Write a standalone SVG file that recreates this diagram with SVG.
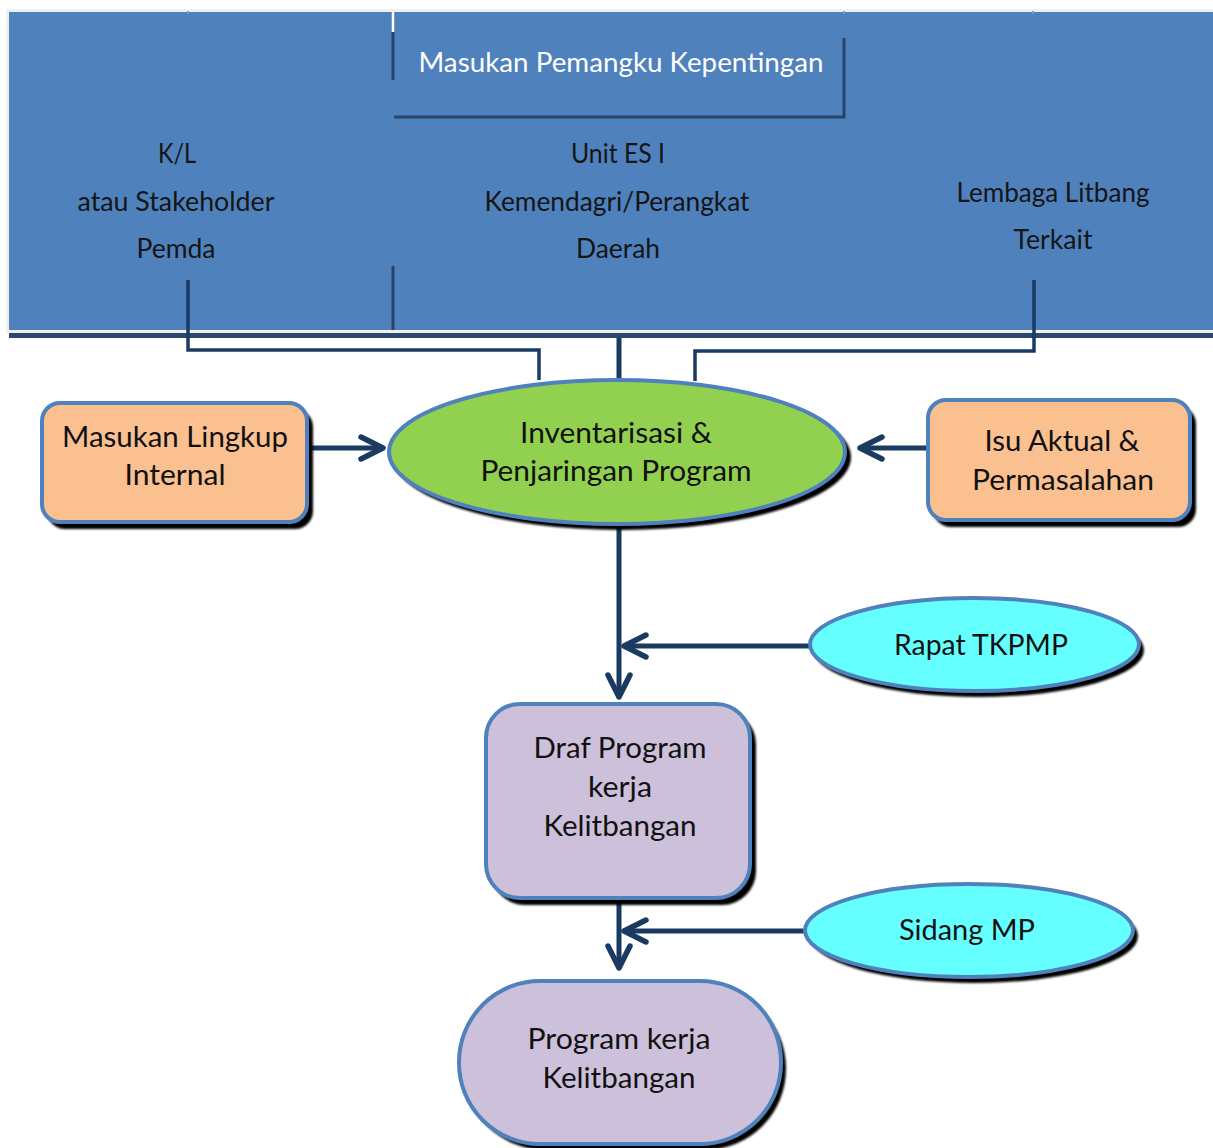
<svg xmlns="http://www.w3.org/2000/svg" width="1213" height="1148" viewBox="0 0 1213 1148">
  <style>
    .lbl { font-family: Lato, "Open Sans", "Liberation Sans", sans-serif; font-size: 28px; fill: #111111; text-anchor: middle; }
    .band { font-family: Lato, "Open Sans", "Liberation Sans", sans-serif; font-size: 27px; fill: #151515; text-anchor: middle; }
    .white { fill: #ffffff; }
    .edge { stroke: #4f81bd; stroke-width: 4; }
    .shadow { fill: #000000; }
    .wire { fill: none; stroke: #1b3a62; stroke-width: 5; }
    .thin { fill: none; stroke: #1b3a62; stroke-width: 3.5; }
    .rule { fill: none; stroke: #2a4468; stroke-width: 3; }
  </style>
  <defs>
    <marker id="chev" markerUnits="userSpaceOnUse" markerWidth="34" markerHeight="34" viewBox="-28 -17 34 34" refX="0" refY="0" orient="auto" overflow="visible">
      <path d="M -22 -11 L 0 0 L -22 11" fill="none" stroke="#1b3a62" stroke-width="5.5" stroke-linecap="round" stroke-linejoin="round"/>
    </marker>
    <filter id="soft" x="-10%" y="-10%" width="120%" height="130%">
      <feGaussianBlur stdDeviation="1"/>
    </filter>
  </defs>

  <rect width="1213" height="1148" fill="#ffffff"/>

  <!-- stakeholder band -->
  <g id="stakeholder-band">
    <rect x="6" y="9" width="1207" height="324" fill="#f0f0f0"/>
    <rect x="9" y="12" width="1204" height="318" fill="#4f81bd"/>
    <rect x="9" y="333" width="1204" height="5" fill="#2c4770"/>
    <!-- column dividers -->
    <line x1="393" y1="12" x2="393" y2="32" stroke="#ffffff" stroke-width="2.5"/>
    <line x1="393" y1="32" x2="393" y2="80" class="rule"/>
    <line x1="393" y1="266" x2="393" y2="330" class="rule"/>
    <line x1="188" y1="11" x2="188" y2="14" stroke="#6f9bd0" stroke-width="2"/>
    <line x1="844" y1="11" x2="844" y2="14" stroke="#6f9bd0" stroke-width="2"/>
    <line x1="1033" y1="11" x2="1033" y2="14" stroke="#6f9bd0" stroke-width="2"/>
    <!-- heading frame -->
    <polyline points="844,38 844,117 394,117" class="rule"/>
    <text x="621" y="72" class="band white" textLength="405" lengthAdjust="spacingAndGlyphs">Masukan Pemangku Kepentingan</text>
    <!-- columns -->
    <text x="177" y="163" class="band" textLength="38" lengthAdjust="spacingAndGlyphs">K/L</text>
    <text x="176" y="211" class="band" textLength="197" lengthAdjust="spacingAndGlyphs">atau Stakeholder</text>
    <text x="176" y="258" class="band" textLength="79" lengthAdjust="spacingAndGlyphs">Pemda</text>
    <text x="618" y="163" class="band" textLength="94" lengthAdjust="spacingAndGlyphs">Unit ES I</text>
    <text x="617" y="211" class="band" textLength="265" lengthAdjust="spacingAndGlyphs">Kemendagri/Perangkat</text>
    <text x="618" y="258" class="band" textLength="84" lengthAdjust="spacingAndGlyphs">Daerah</text>
    <text x="1053" y="202" class="band" textLength="193" lengthAdjust="spacingAndGlyphs">Lembaga Litbang</text>
    <text x="1053" y="249" class="band" textLength="79" lengthAdjust="spacingAndGlyphs">Terkait</text>
  </g>

  <!-- connectors -->
  <g id="connectors">
    <polyline points="188,280 188,350 539,350 539,380" class="thin"/>
    <line x1="619" y1="338" x2="619" y2="378" class="wire"/>
    <polyline points="1034,280 1034,351 695,351 695,381" class="thin"/>
    <line x1="311" y1="448" x2="383" y2="448" class="wire" marker-end="url(#chev)"/>
    <line x1="926" y1="448" x2="860" y2="448" class="wire" marker-end="url(#chev)"/>
    <line x1="619" y1="527" x2="619" y2="697" class="wire" marker-end="url(#chev)"/>
    <line x1="809" y1="646" x2="624" y2="646" class="wire" marker-end="url(#chev)"/>
    <line x1="619" y1="901" x2="619" y2="968" class="wire" marker-end="url(#chev)"/>
    <line x1="804" y1="931" x2="624" y2="931" class="wire" marker-end="url(#chev)"/>
  </g>

  <!-- inventory ellipse -->
  <g id="inventarisasi">
    <ellipse cx="622" cy="457" rx="229" ry="73" class="shadow" filter="url(#soft)"/>
    <ellipse cx="617" cy="452" rx="228" ry="72" fill="#92d050" class="edge"/>
    <text x="616" y="443" class="lbl" textLength="192" lengthAdjust="spacingAndGlyphs">Inventarisasi &amp;</text>
    <text x="616" y="481" class="lbl" textLength="271" lengthAdjust="spacingAndGlyphs">Penjaringan Program</text>
  </g>

  <g id="masukan-internal">
    <rect x="47" y="409" width="266" height="120" rx="18" class="shadow" filter="url(#soft)"/>
    <rect x="42" y="403" width="265" height="119" rx="18" fill="#fac090" class="edge"/>
    <text x="175" y="447" class="lbl" textLength="226" lengthAdjust="spacingAndGlyphs">Masukan Lingkup</text>
    <text x="175" y="485" class="lbl" textLength="101" lengthAdjust="spacingAndGlyphs">Internal</text>
  </g>

  <g id="isu-aktual">
    <rect x="933" y="406" width="263" height="121" rx="18" class="shadow" filter="url(#soft)"/>
    <rect x="928" y="400" width="262" height="120" rx="18" fill="#fac090" class="edge"/>
    <text x="1062" y="451" class="lbl" textLength="155" lengthAdjust="spacingAndGlyphs">Isu Aktual &amp;</text>
    <text x="1063" y="490" class="lbl" textLength="182" lengthAdjust="spacingAndGlyphs">Permasalahan</text>
  </g>

  <g id="rapat-tkpmp">
    <ellipse cx="979" cy="650" rx="165" ry="47" class="shadow" filter="url(#soft)"/>
    <ellipse cx="974.5" cy="644.5" rx="164.5" ry="46.5" fill="#66ffff" class="edge"/>
    <text x="981" y="655" class="lbl" textLength="174" lengthAdjust="spacingAndGlyphs">Rapat TKPMP</text>
  </g>

  <g id="draf-program">
    <rect x="491" y="710" width="265" height="195" rx="34" class="shadow" filter="url(#soft)"/>
    <rect x="486" y="704" width="264" height="194" rx="34" fill="#ccc0da" class="edge"/>
    <text x="620" y="758" class="lbl" textLength="173" lengthAdjust="spacingAndGlyphs">Draf Program</text>
    <text x="620" y="797" class="lbl" textLength="64" lengthAdjust="spacingAndGlyphs">kerja</text>
    <text x="620" y="836" class="lbl" textLength="153" lengthAdjust="spacingAndGlyphs">Kelitbangan</text>
  </g>

  <g id="sidang-mp">
    <ellipse cx="974" cy="936" rx="164" ry="47" class="shadow" filter="url(#soft)"/>
    <ellipse cx="969" cy="930.5" rx="164" ry="46.5" fill="#66ffff" class="edge"/>
    <text x="967" y="940" class="lbl" textLength="136" lengthAdjust="spacingAndGlyphs">Sidang MP</text>
  </g>

  <g id="program-kerja">
    <rect x="464" y="987" width="322" height="163" rx="81" class="shadow" filter="url(#soft)"/>
    <rect x="459" y="981" width="322" height="163" rx="81" fill="#ccc0da" class="edge"/>
    <text x="619" y="1049" class="lbl" textLength="183" lengthAdjust="spacingAndGlyphs">Program kerja</text>
    <text x="619" y="1088" class="lbl" textLength="153" lengthAdjust="spacingAndGlyphs">Kelitbangan</text>
  </g>
</svg>
